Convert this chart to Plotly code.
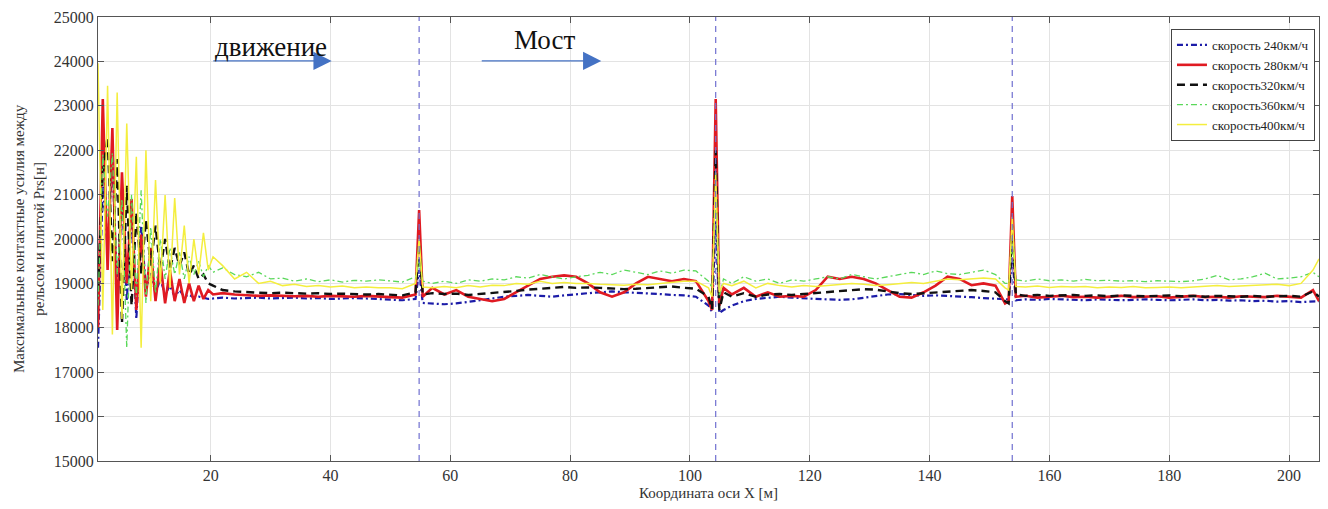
import plotly.graph_objects as go

# ---------------- data ----------------
x_pos = [1.2, 2.0, 2.8, 3.6, 4.4, 5.2, 6.0, 6.8, 7.6, 8.4, 9.2, 10.0, 10.8, 11.6, 12.4, 13.2, 14.0, 14.8, 15.6, 16.4,
         17.2, 18.0, 18.8, 19.6, 20.4,
         22, 24, 26, 28, 30, 32, 34, 36, 38, 40, 42, 44, 46, 48, 50, 52, 54.2,
         54.8,
         55.4, 57, 59, 61, 63, 65, 67, 69, 71, 73, 75, 77, 79, 81, 83, 85, 87, 89, 91, 93, 95, 97, 99, 101, 103.1, 103.7,
         104.3,
         104.9, 105.6, 107, 109, 111, 113, 115, 117, 119, 121, 123, 125, 127, 129, 131, 133, 135, 137, 139, 141, 143, 145,
         147, 149, 151, 152.6, 153.2,
         153.8,
         154.4, 156, 158, 160, 162, 164, 166, 168, 170, 172, 174, 176, 178, 180, 182, 184, 186, 188, 190, 192, 194, 196,
         198, 200, 202, 204, 205]

v240 = [17550, 21200, 19800, 21800, 18800, 21000, 18600, 20500, 18200, 20300, 18900, 19230, 18780, 19100, 18750, 18950,
        18700, 18850, 18700, 18750, 18680, 18700, 18680, 18650, 18660,
        18680, 18660, 18670, 18680, 18660, 18670, 18680, 18660, 18670, 18650, 18660, 18670, 18660, 18650, 18640, 18620, 18650,
        19300,
        18560, 18540, 18530, 18550, 18580, 18620, 18660, 18700, 18720, 18740, 18720, 18700, 18730, 18760, 18780, 18800,
        18820, 18800, 18790, 18770, 18760, 18740, 18730, 18700, 18500, 18360,
        20400,
        18330, 18400, 18500, 18600, 18650, 18680, 18700, 18680, 18660, 18650, 18640, 18630, 18640, 18680, 18720, 18750,
        18760, 18740, 18720, 18730, 18720, 18700, 18690, 18670, 18660, 18650, 18640,
        19600,
        18620, 18640, 18630, 18650, 18640, 18630, 18620, 18640, 18630, 18620, 18630, 18640, 18630, 18620, 18630, 18640,
        18620, 18630, 18610, 18620, 18600, 18610, 18590, 18600, 18580, 18590, 18600]

v280 = [18000, 23150, 19300, 22500, 17950, 21500, 19000, 20900, 18400, 20100, 18700, 19800, 18600, 19500, 18550, 19300,
        18600, 19100, 18560, 19000, 18600, 18950, 18650, 18850, 18750,
        18780, 18750, 18740, 18720, 18730, 18720, 18710, 18720, 18700, 18720, 18710, 18700, 18720, 18700, 18690, 18680, 18750,
        20650,
        18700, 18900, 18750, 18850, 18700, 18650, 18600, 18650, 18800, 18950, 19100, 19150, 19180, 19150, 19000, 18800,
        18700, 18800, 19000, 19150, 19100, 19050, 19100, 19050, 18600, 18400,
        23150,
        18500, 18900, 18750, 18900, 18700, 18800, 18700, 18720, 18700, 18850, 19150, 19100, 19150, 19100, 19000, 18850,
        18700, 18680, 18800, 18950, 19150, 19100, 18960, 19000, 18950, 18550, 18600,
        20970,
        18700, 18720, 18680, 18700, 18720, 18690, 18700, 18680, 18700, 18720, 18690, 18700, 18710, 18680, 18700, 18720,
        18690, 18700, 18680, 18710, 18700, 18690, 18720, 18700, 18680, 18850, 18600]

v320 = [18850, 21500, 22300, 19500, 21800, 18100, 21200, 18500, 20600, 19200, 20430, 19400, 20300, 19300, 20000, 19300,
        19800, 19400, 19700, 19200, 19400, 19100, 19200, 19000, 18950,
        18850, 18820, 18800, 18790, 18780, 18790, 18780, 18770, 18780, 18760, 18770, 18760, 18750, 18760, 18740, 18730, 18800,
        19900,
        18750, 18780, 18760, 18770, 18740, 18760, 18780, 18800, 18830, 18860, 18880, 18900, 18920, 18900, 18910, 18900,
        18880, 18870, 18880, 18900, 18920, 18930, 18900, 18880, 18700, 18420,
        22000,
        18400, 18800, 18700, 18780, 18700, 18750, 18760, 18740, 18760, 18780, 18800, 18820, 18850, 18870, 18860, 18820,
        18780, 18760, 18780, 18800, 18820, 18830, 18850, 18830, 18800, 18600, 18550,
        20300,
        18750, 18720, 18740, 18720, 18730, 18740, 18720, 18730, 18710, 18730, 18720, 18710, 18720, 18730, 18710, 18720,
        18700, 18720, 18710, 18700, 18720, 18700, 18710, 18720, 18700, 18820, 18700]

v360 = [18500, 21900, 20500, 21930, 19200, 20900, 17550, 21000, 18700, 21100, 18560, 20270, 18780, 20000, 19100, 19800,
        19200, 19700, 19100, 19600, 19200, 19500, 19150, 19400, 19250,
        19350, 19200, 19150, 19250, 19100, 19120, 19050, 19100, 19040, 19080, 19030, 19070, 19050, 19080, 19060, 19030, 19150,
        19500,
        19050, 19000, 19050, 19000, 19080, 19050, 19100, 19080, 19150, 19120, 19200, 19150, 19100, 19150, 19180, 19250,
        19200, 19300, 19250, 19200, 19280, 19230, 19300, 19280, 19050, 18900,
        21000,
        18700, 19100, 19000, 19150, 19050, 19100, 19000, 19080, 19050, 19100, 19150, 19100, 19200, 19150, 19100, 19150,
        19200, 19250, 19200, 19280, 19220, 19200, 19250, 19300, 19200, 19000, 19000,
        19900,
        19080, 19050, 19100, 19060, 19080, 19050, 19090, 19060, 19070, 19050, 19060, 19040, 19060, 19050, 19040, 19060,
        19100, 19180, 19080, 19100, 19150, 19230, 19100, 19120, 19150, 19250, 19150]

v400 = [23960, 18400, 23450, 17850, 23300, 18200, 22600, 18850, 21850, 17550, 22000, 18600, 21330, 19000, 20990, 18900,
        20920, 19200, 20300, 19000, 20000, 19200, 20140, 19300, 19600,
        19400, 19100, 19250, 19000, 19050, 18950, 18980, 18930, 18950, 18920, 18940, 18900, 18920, 18900, 18900, 18880, 19000,
        20000,
        18920, 18900, 18930, 18900, 18950, 18920, 18960, 18950, 19000, 18980, 19050, 19000, 19020, 19000, 19000, 18980,
        18970, 18960, 18980, 18970, 19000, 19020, 19050, 19050, 18900, 18700,
        21500,
        18800, 19000, 18950, 19050, 18900, 19000, 18950, 18920, 18950, 18930, 18950, 18970, 19000, 18980, 18950, 18970,
        19000, 19020, 19000, 19050, 19100, 19080, 19100, 19120, 19100, 18900, 18850,
        20500,
        18930, 18920, 18940, 18910, 18930, 18920, 18930, 18900, 18920, 18910, 18930, 18900, 18910, 18920, 18900, 18920,
        18930, 18950, 18930, 18940, 18950, 18960, 18980, 18950, 19000, 19300, 19550]

series_names = ["скорость 240км/ч", "скорость 280км/ч", "скорость320км/ч", "скорость360км/ч", "скорость400км/ч"]
bridge_marks = [54.8, 104.3, 153.8]
x_ticks = [20, 40, 60, 80, 100, 120, 140, 160, 180, 200]
y_ticks = [15000, 16000, 17000, 18000, 19000, 20000, 21000, 22000, 23000, 24000, 25000]
y_tick_text = [str(v) for v in y_ticks]

# ---------------- figure ----------------
FONT = "Liberation Serif, Times New Roman, serif"
styles = [
    dict(color="#1c1ca8", width=2.2, dash="6px,3px,2px,3px"),
    dict(color="#e01a22", width=2.6, dash="solid"),
    dict(color="#111111", width=2.4, dash="8px,5px"),
    dict(color="#5ad85a", width=1.3, dash="6px,3px,2px,3px"),
    dict(color="#f4ee3e", width=1.5, dash="solid"),
]
values = [v240, v280, v320, v360, v400]

fig = go.Figure()
for name, vals, st in zip(series_names, values, styles):
    fig.add_trace(go.Scatter(x=x_pos, y=vals, mode="lines", name=name, line=st))

for xm in bridge_marks:
    fig.add_shape(type="line", xref="x", yref="paper", x0=xm, x1=xm, y0=0, y1=1,
                  line=dict(color="#7070d0", width=1.2, dash="6px,5px"))

arrow_col = "#4472c4"
fig.add_annotation(x=40.2, y=24010, ax=20.2, ay=24010, xref="x", yref="y", axref="x", ayref="y",
                   text="", showarrow=True, arrowhead=2, arrowsize=2.8, arrowwidth=1.3, arrowcolor=arrow_col)
fig.add_annotation(x=85.2, y=24010, ax=65.0, ay=24010, xref="x", yref="y", axref="x", ayref="y",
                   text="", showarrow=True, arrowhead=2, arrowsize=2.8, arrowwidth=1.3, arrowcolor=arrow_col)
fig.add_annotation(x=30, y=24330, xref="x", yref="y", text="движение", showarrow=False,
                   font=dict(family=FONT, size=27, color="#111111"))
fig.add_annotation(x=75.8, y=24480, xref="x", yref="y", text="Мост", showarrow=False,
                   font=dict(family=FONT, size=27, color="#111111"))

fig.add_annotation(x=-0.0565, y=0.5, xref="paper", yref="paper", textangle=-90, xanchor="center", yanchor="middle",
                   text="Максимальные контактные усилия между<br>рельсом и плитой Prs[н]",
                   showarrow=False, font=dict(family=FONT, size=15, color="#333333"))

axis_common = dict(showline=True, linecolor="#555555", linewidth=1, mirror="ticks",
                   ticks="inside", ticklen=6, tickcolor="#555555",
                   showgrid=True, gridcolor="#e3e3e3", gridwidth=1, zeroline=False,
                   tickfont=dict(family=FONT, size=16, color="#333333"))

fig.update_layout(
    width=1312, height=493,
    margin=dict(l=90, r=1, t=9, b=40),
    paper_bgcolor="white", plot_bgcolor="white",
    font=dict(family=FONT, color="#333333"),
    showlegend=True,
    legend=dict(x=0.9967, y=0.973, xanchor="right", yanchor="top",
                bgcolor="white", bordercolor="#444444", borderwidth=1,
                font=dict(family=FONT, size=13, color="#222222"),
                itemwidth=30, tracegroupgap=0),
    xaxis=dict(range=[1.2, 205], tickvals=x_ticks,
               title=dict(text="Координата оси X [м]", font=dict(family=FONT, size=15, color="#333333"), standoff=6),
               **axis_common),
    yaxis=dict(range=[15000, 25000], tickvals=y_ticks, ticktext=y_tick_text, **axis_common),
)

fig.write_html("out.html")
